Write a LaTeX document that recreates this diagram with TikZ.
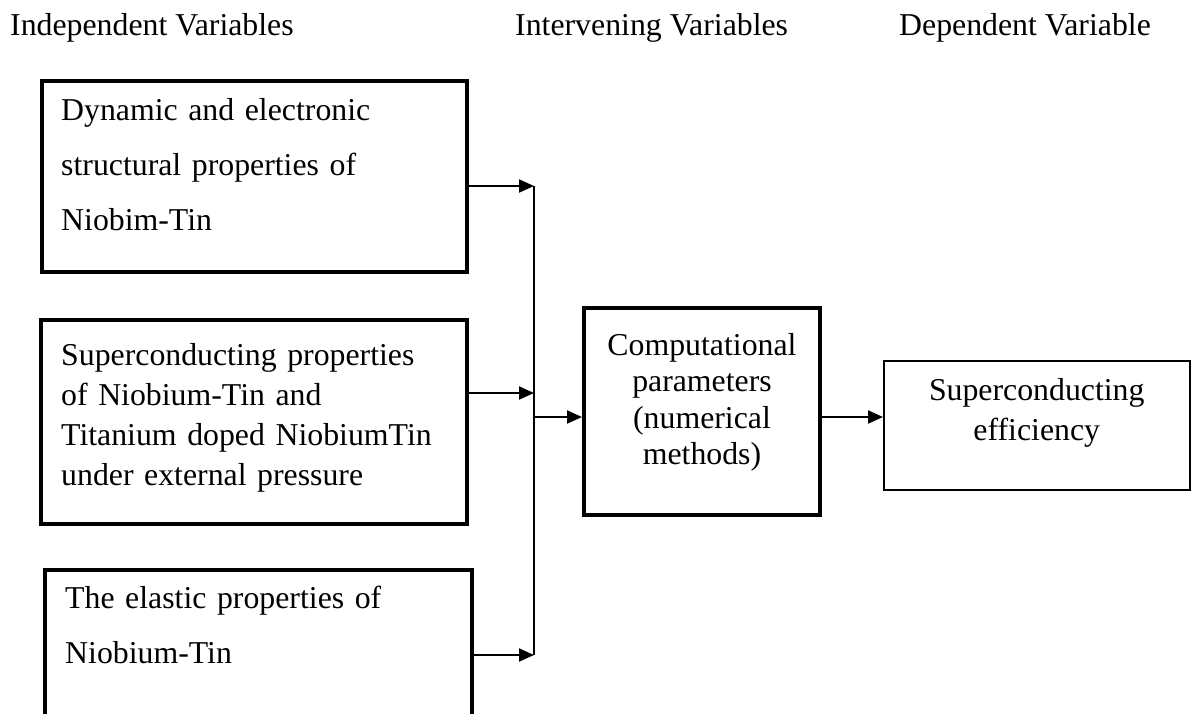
\documentclass[tikz,border=0pt]{standalone}
\usepackage{fontspec}
\setmainfont{Liberation Serif}
\usetikzlibrary{arrows.meta}

\begin{document}
\begin{tikzpicture}[x=1pt,y=-1pt,>={Triangle[length=15pt,width=13pt]},
    varbox/.style={draw,line width=4pt,anchor=north west,inner sep=0pt},
    thinbox/.style={draw,line width=1.5pt,anchor=north west,inner sep=0pt},
    vtext/.style={inner sep=0pt,text width=400pt,align=left,anchor=base west,font=\fontsize{31.8pt}{#1}\selectfont},
    ctext/.style={inner sep=0pt,text width=230pt,align=center,anchor=base,font=\fontsize{31.8pt}{#1}\selectfont},
    head/.style={inner sep=0pt,anchor=base west,font=\fontsize{31.8pt}{36pt}\selectfont},
    conn/.style={line width=2pt},
    bus/.style={line width=1.5pt}]
  \useasboundingbox (0,0) rectangle (1192,713);
  % column headings
  \node[head] (hind) at (10,35) {Independent Variables};
  \node[head] (hint) at (515,35) {Intervening Variables};
  \node[head] (hdep) at (899,35) {Dependent Variable};
  % independent variables
  \node[varbox,minimum width=425pt,minimum height=191pt] (dyn) at (40,79) {};
  \node[vtext=55pt] (dyntxt) at ([xshift=21pt,yshift=-41pt]dyn.north west)
    {Dynamic and electronic\\structural properties of\\Niobim-Tin};
  \node[varbox,minimum width=426pt,minimum height=204pt] (supc) at (39,318) {};
  \node[vtext=40pt] (supctxt) at ([xshift=22pt,yshift=-47pt]supc.north west)
    {Superconducting properties\\of Niobium-Tin and\\Titanium doped NiobiumTin\\under external pressure};
  \node[varbox,minimum width=427pt,minimum height=162pt] (elast) at (43,568) {};
  \node[vtext=55pt] (elasttxt) at ([xshift=22pt,yshift=-40pt]elast.north west)
    {The elastic properties of\\Niobium-Tin};
  % intervening and dependent
  \node[varbox,minimum width=236pt,minimum height=207pt] (comp) at (582,306) {};
  \node[ctext=36.5pt] (comptxt) at ([yshift=-49pt]comp.north)
    {Computational\\parameters\\(numerical\\methods)};
  \node[thinbox,minimum width=306pt,minimum height=129pt] (eff) at (883,360) {};
  \node[ctext=40pt] (efftxt) at ([yshift=-40pt]eff.north)
    {Superconducting\\efficiency};
  % connectors
  \coordinate (bustop) at (534,186);
  \coordinate (busmid) at (534,393);
  \coordinate (busbot) at (534,655);
  \coordinate (join) at (534,417);
  \draw[bus] (bustop) -- (busbot);
  \draw[->,conn] (dyn.east |- bustop) -- (bustop);
  \draw[->,conn] (supc.east |- busmid) -- (busmid);
  \draw[->,conn] (elast.east |- busbot) -- (busbot);
  \draw[->,conn] (join) -- (comp.west |- join);
  \draw[->,conn] (comp.east |- join) -- (eff.west |- join);
\end{tikzpicture}
\end{document}
